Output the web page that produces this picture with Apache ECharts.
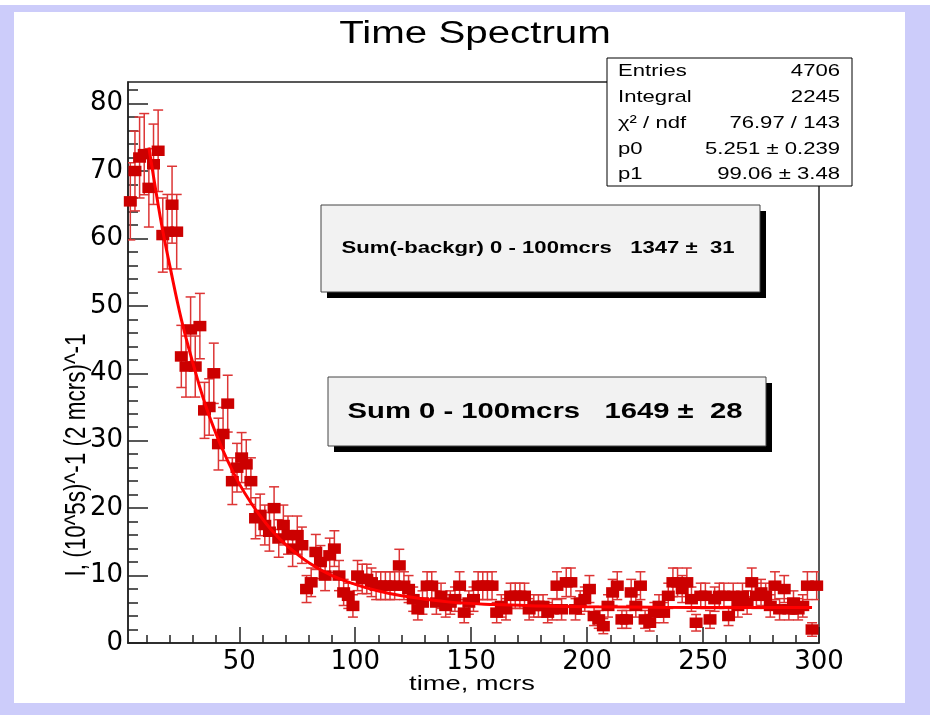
<!DOCTYPE html>
<html><head><meta charset="utf-8">
<script src="https://cdn.jsdelivr.net/npm/echarts@6/dist/echarts.min.js"></script>
<style>html,body{margin:0;padding:0;background:#fff}#c{width:930px;height:715px}</style>
</head><body><div id="c"></div>
<script>
const chartTitle = 'Time Spectrum';
const xTitle = 'time, mcrs';
const yTitle = 'I, (10^5s)^-1 (2 mcrs)^-1';
const binWidth = 2;
const histMin = 2;
const histMax = 300;
// rate per bin (bins of 2 mcrs, centres 3,5,...,299)
const rate = [
  65.5, 70, 72, 72.5, 67.5, 71, 73, 60.5, 61, 65,
  61, 42.5, 41, 46.5, 41, 47, 34.5, 35, 40, 29.5,
  31, 35.5, 24, 26, 27.5, 26.5, 24, 18.5, 19, 17.5,
  16.5, 20, 15.5, 17.5, 16, 14, 16, 14.5, 8, 9,
  13.5, 12, 10, 13, 14, 10, 7.5, 7, 5.5, 10,
  9.5, 9.5, 9, 8.5, 8.5, 8.5, 8.5, 8.5, 11.5, 8.5,
  8, 6.5, 5, 6, 8.5, 8.5, 6, 7, 5.5, 6,
  6.5, 8.5, 4.5, 6, 6.5, 8.5, 8.5, 8.5, 8.5, 4.5,
  5.5, 5, 7, 7, 7, 7, 5, 5.5, 5.5, 5.5,
  4.5, 5, 8.5, 5, 9, 9, 5, 6, 6.5, 8,
  4, 3.5, 2.5, 5.5, 7.5, 8.5, 3.5, 3.5, 7.5, 5.5,
  8.5, 3.5, 3, 4.5, 5.5, 4.5, 7, 9, 9, 8,
  9, 6.5, 3, 7, 7, 3.5, 6.5, 7, 7, 4,
  7, 5.5, 7, 6, 9, 7, 7.5, 7, 5.5, 8.5,
  5, 8, 5, 6, 5, 5.5, 8.5, 2, 8.5
];
// fit curve
const fitT = [11, 13, 15, 17, 20, 25, 30, 35, 40, 45, 50, 55, 60, 65, 70, 80, 90, 100, 110, 120, 140, 160, 180, 200, 230, 260, 297];
const fitV = [73.5, 69.2, 65, 61.1, 56, 48, 41.5, 35.7, 31, 27, 23.6, 20.8, 18.4, 16.3, 14.6, 11.9, 10, 8.7, 7.7, 7, 6.1, 5.7, 5.5, 5.37, 5.3, 5.27, 5.26];
const xMajorTicks = [50, 100, 150, 200, 250, 300];
const xMinorTicks = [10, 20, 30, 40, 60, 70, 80, 90, 110, 120, 130, 140, 160, 170, 180, 190, 210, 220, 230, 240, 260, 270, 280, 290];
const yMajorTicks = [0, 10, 20, 30, 40, 50, 60, 70, 80];
const yMinorTicks = [2, 4, 6, 8, 12, 14, 16, 18, 22, 24, 26, 28, 32, 34, 36, 38, 42, 44, 46, 48, 52, 54, 56, 58, 62, 64, 66, 68, 72, 74, 76, 78, 82];
const yMax = 83.2;
const statsLabels = ['Entries', 'Integral', 'χ² / ndf', 'p0', 'p1'];
const statsValues = ['4706', '2245', '76.97 / 143', '5.251 ± 0.239', '99.06 ± 3.48'];
const boxText1 = 'Sum(-backgr) 0 - 100mcrs   1347 ±  31';
const boxText2 = 'Sum 0 - 100mcrs   1649 ±  28';

const centers = rate.map((v, i) => histMin + binWidth * (i + 0.5));
const errs = rate.map(v => Math.sqrt(v * binWidth) / binWidth);
const pts = rate.map((v, i) => [centers[i], v]);
const errData = rate.map((v, i) => [centers[i], v, errs[i]]);
const fitData = fitT.map((t, i) => [t, fitV[i]]);

const SX = 1.3;
const FONT = '"Liberation Sans", Arial, Helvetica, sans-serif';
const axisCol = '#222';

const graphics = [
  { type: 'rect', z: -100, shape: { x: 0, y: 5, width: 930, height: 710 }, style: { fill: '#ccccfa' } },
  { type: 'rect', z: -99, shape: { x: 14, y: 12, width: 891, height: 691 }, style: { fill: '#ffffff' } },
  { type: 'text', z: 100, x: 475, y: 34, scaleX: SX, style: { text: chartTitle, font: '31px ' + FONT, fill: '#000', align: 'center', verticalAlign: 'middle' } },
  { type: 'text', z: 100, x: 472, y: 684, scaleX: SX, style: { text: xTitle, font: '21px ' + FONT, fill: '#000', align: 'center', verticalAlign: 'middle' } },
  { type: 'text', z: 100, x: 77, y: 455, rotation: Math.PI / 2, scaleY: SX, style: { text: yTitle, font: '22.5px ' + FONT, fill: '#000', align: 'center', verticalAlign: 'middle' } },
  // stats box
  { type: 'rect', z: 100, shape: { x: 607, y: 58, width: 245, height: 128 }, style: { fill: '#fff', stroke: '#000', lineWidth: 1 } }
];
statsLabels.forEach((s, i) => {
  const y = 71.5 + i * 25.8;
  graphics.push({ type: 'text', z: 101, x: 618, y: y, scaleX: SX, style: { text: s, font: '17px ' + FONT, fill: '#000', align: 'left', verticalAlign: 'middle' } });
  graphics.push({ type: 'text', z: 101, x: 840, y: y, scaleX: SX, style: { text: statsValues[i], font: '17px ' + FONT, fill: '#000', align: 'right', verticalAlign: 'middle' } });
});
function addBox(x, y, w, h, text, size, cx, cy) {
  graphics.push({ type: 'rect', z: 100, shape: { x: x + 6, y: y + 6, width: w, height: h }, style: { fill: '#000' } });
  graphics.push({ type: 'rect', z: 101, shape: { x: x, y: y, width: w, height: h }, style: { fill: '#f2f2f2', stroke: '#444', lineWidth: 1 } });
  graphics.push({ type: 'text', z: 102, x: cx, y: cy, scaleX: SX, style: { text: text, font: 'bold ' + size + 'px ' + FONT, fill: '#000', align: 'center', verticalAlign: 'middle' } });
}
addBox(321, 205, 439, 87, boxText1, 17, 538, 248);
addBox(328, 377, 438, 69, boxText2, 22.5, 545, 412);

const chart = echarts.init(document.getElementById('c'), null, { renderer: 'canvas' });
chart.setOption({
  animation: false,
  backgroundColor: '#fff',
  grid: { left: 128, right: 111, top: 82, bottom: 72, show: true, borderColor: axisCol, borderWidth: 1.5, backgroundColor: 'transparent' },
  xAxis: [
    { type: 'value', min: histMin, max: histMax, position: 'bottom',
      axisLine: { show: true, lineStyle: { color: axisCol, width: 1.5 } },
      axisTick: { show: true, inside: true, length: 16, customValues: xMajorTicks, lineStyle: { color: axisCol, width: 1.5 } },
      axisLabel: { customValues: xMajorTicks, fontSize: 26, fontFamily: 'DejaVu Sans', color: '#000', margin: 6 },
      splitLine: { show: false } },
    { type: 'value', min: histMin, max: histMax, position: 'bottom',
      axisLine: { show: false },
      axisTick: { show: true, inside: true, length: 8, customValues: xMinorTicks, lineStyle: { color: axisCol, width: 1.5 } },
      axisLabel: { show: false }, splitLine: { show: false } }
  ],
  yAxis: [
    { type: 'value', min: 0, max: yMax, position: 'left',
      axisLine: { show: true, lineStyle: { color: axisCol, width: 1.5 } },
      axisTick: { show: true, inside: true, length: 20, customValues: yMajorTicks, lineStyle: { color: axisCol, width: 1.5 } },
      axisLabel: { customValues: yMajorTicks, fontSize: 26, fontFamily: 'DejaVu Sans', color: '#000', margin: 5 },
      splitLine: { show: false } },
    { type: 'value', min: 0, max: yMax, position: 'left',
      axisLine: { show: false },
      axisTick: { show: true, inside: true, length: 10, customValues: yMinorTicks, lineStyle: { color: axisCol, width: 1.5 } },
      axisLabel: { show: false }, splitLine: { show: false } }
  ],
  graphic: graphics,
  series: [
    { type: 'custom', xAxisIndex: 0, yAxisIndex: 0, z: 2, clip: true,
      data: errData, encode: { x: 0, y: [1] },
      renderItem: function (params, api) {
        const x = api.value(0), y = api.value(1), e = api.value(2);
        const top = api.coord([x, y + e]);
        const bot = api.coord([x, Math.max(0, y - e)]);
        const st = { stroke: '#dd3535', lineWidth: 1.5 };
        return { type: 'group', children: [
          { type: 'line', shape: { x1: top[0], y1: top[1], x2: bot[0], y2: bot[1] }, style: st },
          { type: 'line', shape: { x1: top[0] - 5, y1: top[1], x2: top[0] + 5, y2: top[1] }, style: st },
          { type: 'line', shape: { x1: bot[0] - 5, y1: bot[1], x2: bot[0] + 5, y2: bot[1] }, style: st }
        ] };
      } },
    { type: 'scatter', xAxisIndex: 0, yAxisIndex: 0, z: 3, symbol: 'rect', symbolSize: [13, 10.5],
      itemStyle: { color: '#cc0000', opacity: 1 }, data: pts },
    { type: 'line', xAxisIndex: 0, yAxisIndex: 0, z: 4, smooth: 0.4, showSymbol: false, symbol: 'none',
      lineStyle: { color: '#ff0000', width: 3 }, data: fitData }
  ]
});
</script></body></html>
